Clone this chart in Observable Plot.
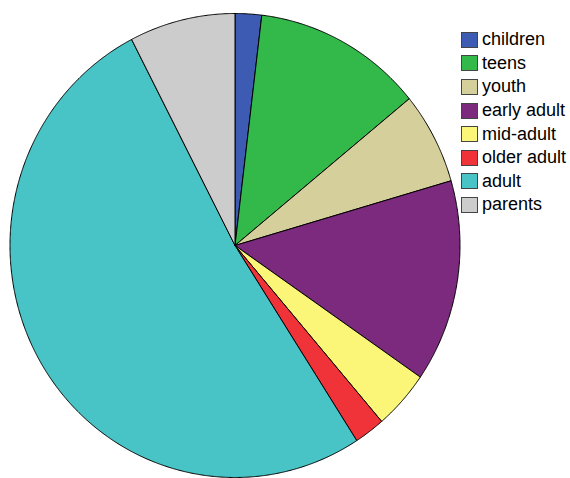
<!DOCTYPE html>
<html>
<head>
<meta charset="utf-8">
<script src="https://cdn.jsdelivr.net/npm/d3@7"></script>
<script src="https://cdn.jsdelivr.net/npm/@observablehq/plot@0.6"></script>
<style>
  html, body { margin: 0; padding: 0; background: #fff; }
  #wrap { position: relative; width: 570px; height: 478px; }
  #legend { position: absolute; left: 461px; top: 28px; font-family: "Liberation Sans", Arial, sans-serif; font-size: 18px; color: #000; }
  .row { display: flex; align-items: center; height: 23.6px; }
  .sw { width: 15px; height: 14px; border: 1px solid #444; box-sizing: content-box; margin-right: 4px; }
</style>
</head>
<body>
<div id="wrap"><div id="legend"></div></div>
<script>
const categories = ["children", "teens", "youth", "early adult", "mid-adult", "older adult", "adult", "parents"];
const values = [1.9, 12.2, 6.4, 14.1, 4.1, 2.2, 51.5, 7.6];
const colors = ["#3d5bb2", "#33b84a", "#d5d09b", "#7b2a7d", "#fbf677", "#ef3338", "#48c3c6", "#cccccc"];

const arcs = d3.pie().sort(null).value(d => d)(values);
const pts = [];
arcs.forEach((a, i) => {
  const cat = categories[i];
  pts.push({cat, x: 0, y: 0});
  const n = Math.max(2, Math.ceil((a.endAngle - a.startAngle) / 0.005));
  for (let k = 0; k <= n; k++) {
    const t = a.startAngle + (a.endAngle - a.startAngle) * k / n;
    pts.push({cat, x: Math.sin(t), y: Math.cos(t)});
  }
  pts.push({cat, x: 0, y: 0});
});

const chart = Plot.plot({
  width: 570,
  height: 478,
  marginLeft: 9.5,
  marginRight: 110.5,
  marginTop: 13,
  marginBottom: 1,
  x: {domain: [-1, 1], axis: null},
  y: {domain: [-1, 1], axis: null},
  color: {domain: categories, range: colors},
  marks: [
    Plot.line(pts, {x: "x", y: "y", z: "cat", fill: "cat", stroke: "#000", strokeWidth: 1, strokeLinejoin: "round"})
  ]
});
document.getElementById("wrap").prepend(chart);

const legend = document.getElementById("legend");
categories.forEach((c, i) => {
  const row = document.createElement("div");
  row.className = "row";
  const sw = document.createElement("div");
  sw.className = "sw";
  sw.style.background = colors[i];
  const lab = document.createElement("span");
  lab.textContent = c;
  row.appendChild(sw);
  row.appendChild(lab);
  legend.appendChild(row);
});
</script>
</body>
</html>
